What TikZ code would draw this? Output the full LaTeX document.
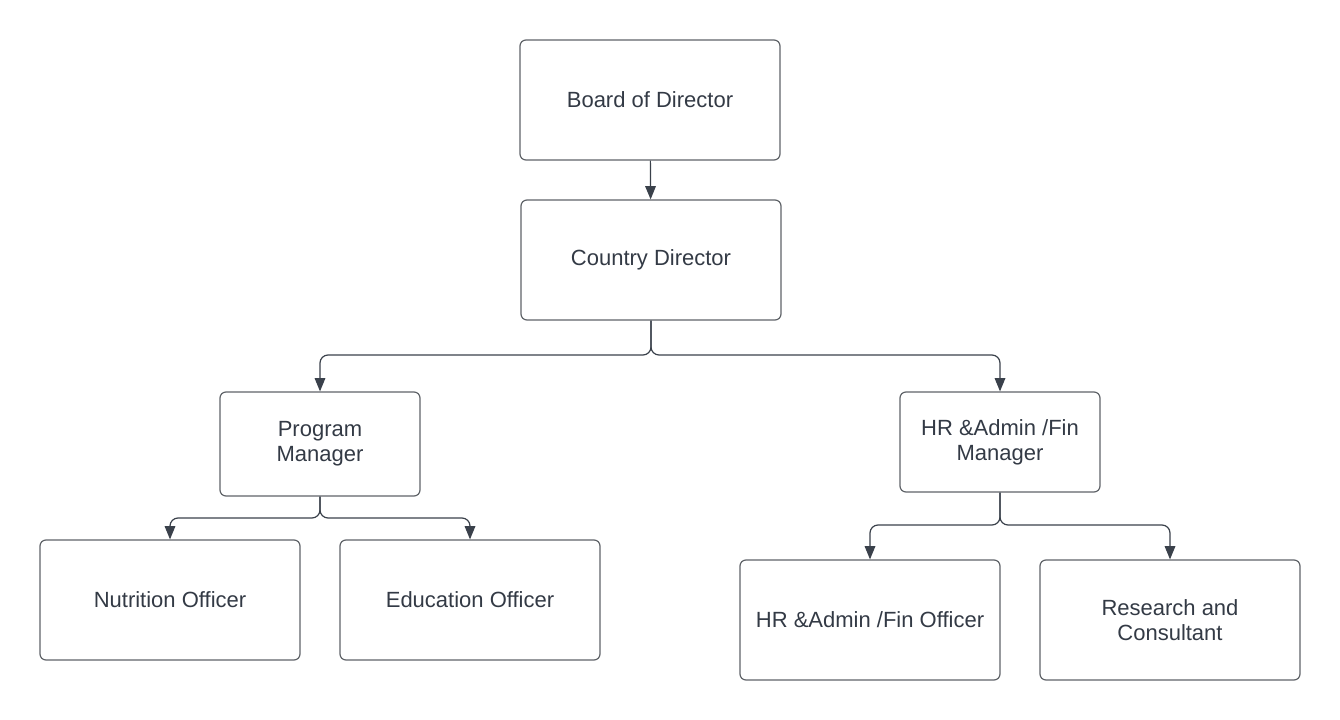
\documentclass[tikz,border=0pt]{standalone}
\usepackage{fontspec}
\setmainfont{Liberation Sans}
\usetikzlibrary{arrows.meta}
\definecolor{txt}{HTML}{333A45}
\definecolor{edge}{HTML}{5F6368}
\definecolor{conn}{HTML}{3A414B}
\begin{document}
\begin{tikzpicture}[x=0.75pt,y=-0.75pt,
  box/.style={draw=edge,line width=0.9pt,rounded corners=4.5pt,minimum width=195pt,minimum height=90pt,inner sep=0pt,align=center,text=txt,font=\fontsize{16.5}{19}\selectfont},
  sbox/.style={box,minimum width=150pt,minimum height=78pt},
  link/.style={draw=conn,line width=0.9pt,rounded corners=6pt,-{Triangle[length=10pt,width=8pt]}}]
\useasboundingbox (0,0) rectangle (1340,720);
\node[box] (board) at (650,100) {Board of Director};
\node[box] (country) at (651,260) {Country Director};
\node[sbox] (pm) at (320,444) {Program\\Manager};
\node[sbox,minimum height=75pt] (hrm) at (1000,442) {HR \&Admin /Fin\\Manager};
\node[box] (nut) at (170,600) {Nutrition Officer};
\node[box] (edu) at (470,600) {Education Officer};
\node[box] (hro) at (870,620) {HR \&Admin /Fin Officer};
\node[box] (res) at (1170,620) {Research and\\Consultant};
\draw[link] (board) -- (country);
\draw[link] (country.south) |- (320,355) -- (pm.north);
\draw[link] (country.south) |- (1000,355) -- (hrm.north);
\draw[link] (pm.south) |- (170,518) -- (nut.north);
\draw[link] (pm.south) |- (470,518) -- (edu.north);
\draw[link] (hrm.south) |- (870,525) -- (hro.north);
\draw[link] (hrm.south) |- (1170,525) -- (res.north);
\end{tikzpicture}
\end{document}
